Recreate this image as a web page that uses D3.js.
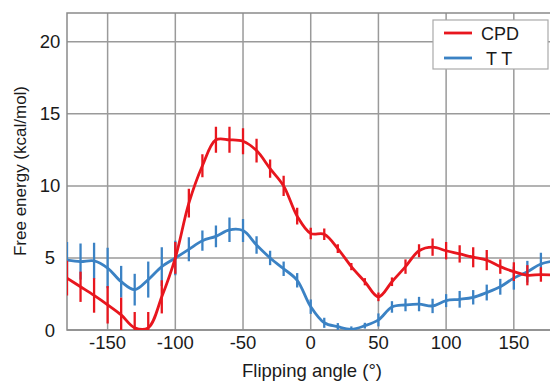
<!DOCTYPE html>
<html><head><meta charset="utf-8">
<script src="https://cdn.jsdelivr.net/npm/d3@7"></script>
<style>body{margin:0;background:#fff}svg{display:block;font-family:"Liberation Sans",Arial,sans-serif}</style>
</head><body><svg id="c" width="550" height="381"></svg>
<script>
const angles = [-180,-170,-160,-150,-140,-130,-120,-110,-100,-90,-80,-70,-60,-50,-40,-30,-20,-10,0,10,20,30,40,50,60,70,80,90,100,110,120,130,140,150,160,170,180];
const cpd    = [3.6,3.0,2.4,1.75,1.05,0.15,0.15,2.3,5.0,8.8,11.4,13.2,13.2,13.1,12.45,11.2,10.0,7.9,6.7,6.65,5.65,4.4,3.35,2.3,3.35,4.4,5.5,5.75,5.5,5.28,5.05,4.85,4.4,4.05,3.8,3.85,3.8];
const cpdErr = [1.2,1.05,1.2,1.3,1.2,1.1,1.1,1.15,1.1,1.0,0.8,0.9,0.9,0.9,0.83,0.63,0.7,0.58,0.4,0.4,0.3,0.25,0.25,0.3,0.3,0.5,0.45,0.6,0.6,0.6,0.7,0.7,0.5,0.65,0.7,0.5,0.5];
const tt     = [4.85,4.75,4.8,4.3,3.35,2.8,3.5,4.4,5.0,5.6,6.2,6.5,6.95,6.9,5.9,5.0,4.25,3.45,1.62,0.5,0.23,0.05,0.3,0.7,1.6,1.74,1.8,1.67,2.04,2.13,2.27,2.6,3.0,3.6,4.05,4.58,4.8];
const ttErr  = [1.25,1.25,1.25,1.4,1.1,1.1,1.25,1.35,1.2,0.83,0.7,0.75,0.85,0.8,0.6,0.5,0.5,0.5,0.5,0.35,0.25,0.2,0.2,0.45,0.4,0.44,0.5,0.5,0.45,0.58,0.5,0.55,0.55,0.8,0.75,0.78,0.8];
const xTicks = [-150,-100,-50,0,50,100,150];
const yTicks = [0,5,10,15,20];
const seriesNames = ["CPD","T T"];
const colors = ["#e8161e","#3b82c4"];

const svg = d3.select("#c");
const m = {l:67, t:13, b:330};
const x = d3.scaleLinear().domain([-180,180]).range([m.l, m.l + 360*1.354]);
const y = d3.scaleLinear().domain([0,22]).range([m.b, m.t]);

svg.append("defs").append("clipPath").attr("id","clip").append("rect")
  .attr("x", x(-180)).attr("y", y(22)).attr("width", x(180)-x(-180)).attr("height", y(0)-y(22));

const grid = svg.append("g");
grid.selectAll(".gx").data(xTicks).join("line")
  .attr("x1", d=>x(d)).attr("x2", d=>x(d)).attr("y1", y(0)).attr("y2", y(22))
  .attr("stroke","#9a9a9a").attr("stroke-width",1.5);
grid.selectAll(".gy").data(yTicks).join("line")
  .attr("x1", x(-180)).attr("x2", x(180)).attr("y1", d=>y(d)).attr("y2", d=>y(d))
  .attr("stroke","#9a9a9a").attr("stroke-width",1.5);
svg.append("rect").attr("x", x(-180)).attr("y", y(22)).attr("width", x(180)-x(-180)).attr("height", y(0)-y(22))
  .attr("fill","none").attr("stroke","#8a8a8a").attr("stroke-width",1.5);

const plot = svg.append("g").attr("clip-path","url(#clip)");
const series = [{v:tt, e:ttErr, c:colors[1]}, {v:cpd, e:cpdErr, c:colors[0]}];
const line = d3.line().x((d,i)=>x(angles[i])).y(d=>y(d)).curve(d3.curveCatmullRom.alpha(0.5));
series.forEach(s=>{
  plot.append("path").datum(s.v).attr("d", line).attr("fill","none").attr("stroke", s.c).attr("stroke-width",2.8);
  plot.selectAll(null).data(s.v).join("line")
    .attr("x1",(d,i)=>x(angles[i])).attr("x2",(d,i)=>x(angles[i]))
    .attr("y1",(d,i)=>y(d - s.e[i])).attr("y2",(d,i)=>y(d + s.e[i]))
    .attr("stroke", s.c).attr("stroke-width",2.3);
});

svg.selectAll(".xt").data(xTicks).join("text")
  .attr("x", d=>x(d)).attr("y", 349).attr("text-anchor","middle")
  .attr("font-size",18.5).attr("fill","#1a1a1a").text(d=>d);
svg.selectAll(".yt").data(yTicks).join("text")
  .attr("x", 50).attr("y", d=>y(d)+6.5).attr("text-anchor","middle")
  .attr("font-size",18.5).attr("fill","#1a1a1a").text(d=>d);

svg.append("text").attr("x", 312).attr("y", 377).attr("text-anchor","middle")
  .attr("font-size",18.5).attr("fill","#1a1a1a").text("Flipping angle (°)");
svg.append("text").attr("transform","translate(26,171) rotate(-90)").attr("text-anchor","middle")
  .attr("font-size",17).attr("fill","#1a1a1a").text("Free energy (kcal/mol)");

const lg = svg.append("g");
lg.append("rect").attr("x",433).attr("y",20).attr("width",115).attr("height",49)
  .attr("fill","#fff").attr("stroke","#aaa").attr("stroke-width",1.2);
seriesNames.forEach((n,i)=>{
  const yy = 33 + i*25;
  lg.append("line").attr("x1",444).attr("x2",472).attr("y1",yy).attr("y2",yy)
    .attr("stroke",colors[i]).attr("stroke-width",2.8);
  lg.append("text").attr("x", i===0?481:486).attr("y", yy+6.5).attr("font-size",18).attr("fill","#1a1a1a").text(n);
});
</script></body></html>
